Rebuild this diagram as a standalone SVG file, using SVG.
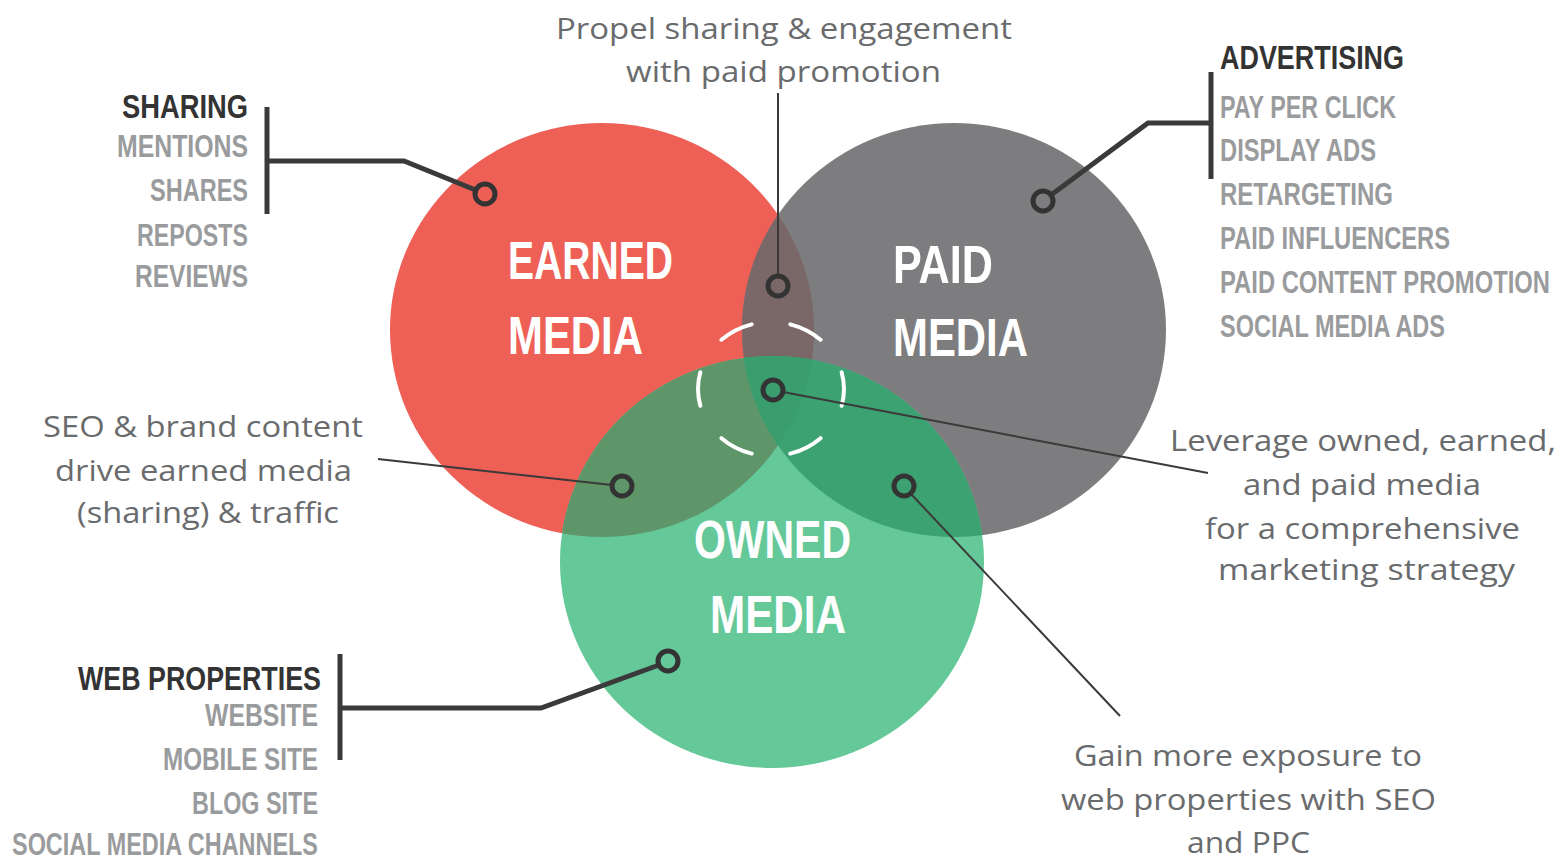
<svg xmlns="http://www.w3.org/2000/svg" width="1564" height="859" viewBox="0 0 1564 859">
  <defs>
    <style>
      .cap { font-family: "Liberation Sans Narrow", "Liberation Sans", Arial, sans-serif; font-weight: bold; }
      .title { fill: #ffffff; font-size: 54px; }
      .head { fill: #333333; font-size: 34px; }
      .item { fill: #9a9b9d; font-size: 31px; }
      .body { font-family: "Open Sans", "Noto Sans", sans-serif; fill: #6a6b6d; font-size: 29px; }
      .bracket { fill: none; stroke: #3a3a3a; stroke-width: 5; stroke-linejoin: miter; }
      .callout { fill: none; stroke: #3a3a3a; stroke-width: 2; }
      .ring { fill: none; stroke: #333333; stroke-width: 5; }
    </style>
    <clipPath id="clipRed"><ellipse cx="602" cy="330" rx="212" ry="207"/></clipPath>
    <clipPath id="clipGrey"><ellipse cx="954" cy="330" rx="212" ry="207"/></clipPath>
  </defs>

  <rect width="1564" height="859" fill="#ffffff"/>

  <g id="earned-media">
    <ellipse cx="602" cy="330" rx="212" ry="207" fill="#ee5f56"/>
  </g>
  <g id="paid-media">
    <ellipse cx="954" cy="330" rx="212" ry="207" fill="#7d7c7e"/>
  </g>
  <g id="owned-media">
    <ellipse cx="772" cy="562" rx="212" ry="206" fill="#64c899"/>
  </g>
  <g id="overlaps">
    <ellipse cx="954" cy="330" rx="212" ry="207" fill="#7a6767" clip-path="url(#clipRed)"/>
    <ellipse cx="772" cy="562" rx="212" ry="206" fill="#5e9669" clip-path="url(#clipRed)"/>
    <ellipse cx="772" cy="562" rx="212" ry="206" fill="#3da272" clip-path="url(#clipGrey)"/>
    <g clip-path="url(#clipGrey)">
      <ellipse cx="772" cy="562" rx="212" ry="206" fill="#3a9d6e" clip-path="url(#clipRed)"/>
    </g>
  </g>

  <g id="center-dashed">
    <ellipse cx="771" cy="389" rx="73" ry="67" pathLength="360" fill="none" stroke="#ffffff" stroke-width="4" stroke-linecap="round" stroke-dasharray="28 32" stroke-dashoffset="14"/>
  </g>

  <g id="circle-labels" class="cap title">
    <text x="508" y="279" textLength="165" lengthAdjust="spacingAndGlyphs">EARNED</text>
    <text x="508" y="354" textLength="135" lengthAdjust="spacingAndGlyphs">MEDIA</text>
    <text x="893" y="283" textLength="100" lengthAdjust="spacingAndGlyphs">PAID</text>
    <text x="893" y="356" textLength="135" lengthAdjust="spacingAndGlyphs">MEDIA</text>
    <text x="694" y="558" textLength="157" lengthAdjust="spacingAndGlyphs">OWNED</text>
    <text x="710" y="633" textLength="136" lengthAdjust="spacingAndGlyphs">MEDIA</text>
  </g>

  <g id="connectors">
    <path class="bracket" d="M267 107 V214"/>
    <path class="bracket" d="M267 161 H404 L478 191"/>
    <path class="bracket" d="M1211 72 V179"/>
    <path class="bracket" d="M1211 123 H1148 L1051 195"/>
    <path class="bracket" d="M340 654 V760"/>
    <path class="bracket" d="M340 708 H541 L659 665"/>
    <path class="callout" d="M778 93 V276"/>
    <path class="callout" d="M378 459 L612 485"/>
    <path class="callout" d="M783 392 L1208 473"/>
    <path class="callout" d="M911 494 L1120 716"/>
  </g>

  <g id="markers">
    <circle class="ring" cx="485" cy="194" r="10"/>
    <circle class="ring" cx="1043" cy="201" r="10"/>
    <circle class="ring" cx="668" cy="661" r="10"/>
    <circle class="ring" cx="778" cy="286" r="10"/>
    <circle class="ring" cx="773" cy="390" r="10"/>
    <circle class="ring" cx="622" cy="486" r="10"/>
    <circle class="ring" cx="904" cy="486" r="10"/>
  </g>

  <g id="sharing-list" class="cap">
    <text class="head" x="122" y="118" textLength="126" lengthAdjust="spacingAndGlyphs">SHARING</text>
    <text class="item" x="117" y="157" textLength="131" lengthAdjust="spacingAndGlyphs">MENTIONS</text>
    <text class="item" x="150" y="201" textLength="98" lengthAdjust="spacingAndGlyphs">SHARES</text>
    <text class="item" x="137" y="246" textLength="111" lengthAdjust="spacingAndGlyphs">REPOSTS</text>
    <text class="item" x="135" y="287" textLength="113" lengthAdjust="spacingAndGlyphs">REVIEWS</text>
  </g>

  <g id="advertising-list" class="cap">
    <text class="head" x="1220" y="69" textLength="184" lengthAdjust="spacingAndGlyphs">ADVERTISING</text>
    <text class="item" x="1220" y="118" textLength="176" lengthAdjust="spacingAndGlyphs">PAY PER CLICK</text>
    <text class="item" x="1220" y="161" textLength="156" lengthAdjust="spacingAndGlyphs">DISPLAY ADS</text>
    <text class="item" x="1220" y="205" textLength="173" lengthAdjust="spacingAndGlyphs">RETARGETING</text>
    <text class="item" x="1220" y="249" textLength="230" lengthAdjust="spacingAndGlyphs">PAID INFLUENCERS</text>
    <text class="item" x="1220" y="293" textLength="330" lengthAdjust="spacingAndGlyphs">PAID CONTENT PROMOTION</text>
    <text class="item" x="1220" y="337" textLength="225" lengthAdjust="spacingAndGlyphs">SOCIAL MEDIA ADS</text>
  </g>

  <g id="web-properties-list" class="cap">
    <text class="head" x="78" y="690" textLength="243" lengthAdjust="spacingAndGlyphs">WEB PROPERTIES</text>
    <text class="item" x="205" y="726" textLength="113" lengthAdjust="spacingAndGlyphs">WEBSITE</text>
    <text class="item" x="163" y="770" textLength="155" lengthAdjust="spacingAndGlyphs">MOBILE SITE</text>
    <text class="item" x="192" y="814" textLength="126" lengthAdjust="spacingAndGlyphs">BLOG SITE</text>
    <text class="item" x="12" y="855" textLength="306" lengthAdjust="spacingAndGlyphs">SOCIAL MEDIA CHANNELS</text>
  </g>

  <g id="propel-note" class="body">
    <text x="556" y="39" textLength="456" lengthAdjust="spacingAndGlyphs">Propel sharing &amp; engagement</text>
    <text x="626" y="82" textLength="315" lengthAdjust="spacingAndGlyphs">with paid promotion</text>
  </g>

  <g id="seo-note" class="body">
    <text x="43" y="437" textLength="320" lengthAdjust="spacingAndGlyphs">SEO &amp; brand content</text>
    <text x="55" y="481" textLength="297" lengthAdjust="spacingAndGlyphs">drive earned media</text>
    <text x="77" y="523" textLength="262" lengthAdjust="spacingAndGlyphs">(sharing) &amp; traffic</text>
  </g>

  <g id="leverage-note" class="body">
    <text x="1170" y="451" textLength="386" lengthAdjust="spacingAndGlyphs">Leverage owned, earned,</text>
    <text x="1243" y="495" textLength="238" lengthAdjust="spacingAndGlyphs">and paid media</text>
    <text x="1205" y="539" textLength="315" lengthAdjust="spacingAndGlyphs">for a comprehensive</text>
    <text x="1218" y="580" textLength="297" lengthAdjust="spacingAndGlyphs">marketing strategy</text>
  </g>

  <g id="gain-note" class="body">
    <text x="1074" y="766" textLength="348" lengthAdjust="spacingAndGlyphs">Gain more exposure to</text>
    <text x="1061" y="810" textLength="375" lengthAdjust="spacingAndGlyphs">web properties with SEO</text>
    <text x="1187" y="853" textLength="123" lengthAdjust="spacingAndGlyphs">and PPC</text>
  </g>
</svg>
